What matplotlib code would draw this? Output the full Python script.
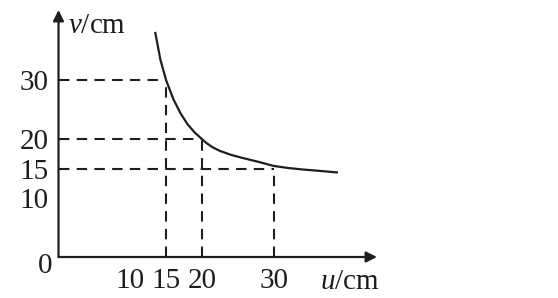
import matplotlib
matplotlib.use("Agg")
import matplotlib.pyplot as plt

plt.rcParams['font.family'] = ['Liberation Serif', 'DejaVu Serif']
plt.rcParams['mathtext.fontset'] = 'custom'
plt.rcParams['mathtext.rm'] = 'Liberation Serif'
plt.rcParams['mathtext.it'] = 'Liberation Serif:italic'

# image distance v against object distance u
u_curve = [13.5, 14.2, 15.0, 16.0, 17.0, 18.0, 19.0, 20.0, 20.6, 21.5, 22.5, 24.0, 25.5, 28.0, 30.0, 32.0, 34.0, 36.0, 38.8]
v_curve = [38.0, 33.5, 30.0, 26.8, 24.4, 22.5, 21.1, 20.0, 19.35, 18.6, 18.0, 17.35, 16.85, 16.1, 15.45, 15.1, 14.85, 14.65, 14.35]

# marked points with dashed guide lines
u_marks = [15, 20, 30]
v_marks = [30, 20, 15]

x_ticks = [10, 15, 20, 30]
y_ticks = [10, 15, 20, 30]

W, H = 558, 298
fig = plt.figure(figsize=(W / 100, H / 100), dpi=100)
ax = fig.add_axes([58.5 / W, 41 / H, (377 - 58.5) / W, (257 - 10) / H])
ax.set_xlim(0, 44.4)
ax.set_ylim(0, 41.9)

ink = '#1e1e1e'
fs = 21

for s in ax.spines.values():
    s.set_visible(False)

# axes with arrows
arrow = dict(arrowstyle='-|>', lw=1.6, color=ink, mutation_scale=16, shrinkA=0, shrinkB=0)
ax.annotate('', xy=(44.4, 0), xytext=(0, 0), arrowprops=arrow, annotation_clip=False)
ax.annotate('', xy=(0, 41.9), xytext=(0, 0), arrowprops=arrow, annotation_clip=False)

# dashed guides
for u, v in zip(u_marks, v_marks):
    ax.plot([0, u], [v, v], color=ink, lw=1.5, ls=(0, (5, 3.5)))
    ax.plot([u, u], [0, v], color=ink, lw=1.5, ls=(0, (5, 3.5)))

ax.plot(u_curve, v_curve, color=ink, lw=1.6)

ax.set_xticks(x_ticks)
ax.set_xticklabels([str(t) for t in x_ticks])
ax.set_yticks(y_ticks)
ax.set_yticklabels([str(t) for t in y_ticks])
ax.tick_params(length=0, labelsize=fs, colors=ink)
ax.tick_params(axis='x', pad=8)
ax.tick_params(axis='y', pad=7)

ax.text(-0.8, -1.5, '0', fontsize=fs, color=ink, ha='right', va='center')
ax.text(1.3, 39.2, r'$\mathit{v}$/cm', fontsize=fs, color=ink, ha='left', va='center')
ax.text(36.5, -4.3, r'$\mathit{u}$/cm', fontsize=fs, color=ink, ha='left', va='center')

fig.savefig('out.png', dpi=100)
